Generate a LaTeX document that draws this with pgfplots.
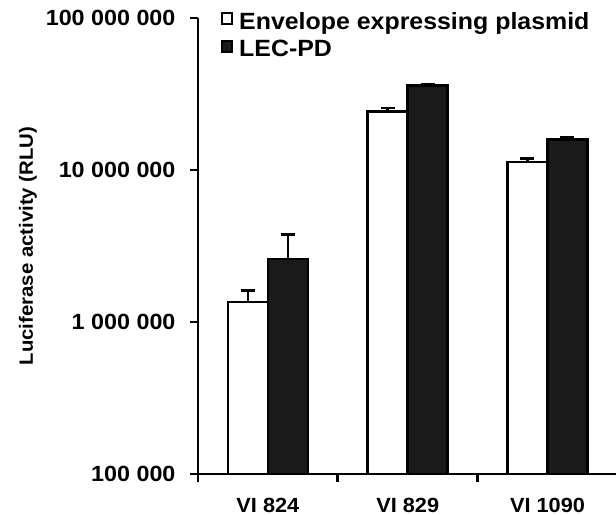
\documentclass[border=0pt]{standalone}
\usepackage{fontspec}
\setmainfont{Liberation Sans}[FakeStretch=1.06]
\usepackage{pgfplots}
\pgfplotsset{compat=1.18}
\definecolor{barblack}{HTML}{1A1A1A}
\begin{document}
\begin{tikzpicture}
\begin{axis}[
  name=ax, scale only axis, width=418bp, height=456bp,
  xmin=0.5, xmax=3.49, ymode=log, ymin=1e5, ymax=1e8,
  axis x line*=bottom, axis y line*=left,
  axis line style={line width=2.6bp, black},
  every tick/.style={line width=2.6bp, black},
  tick align=outside, major tick length=8bp,
  axis on top,
  xtick={0.5,1.5,2.5}, xticklabels={},
  extra x ticks={1,2,3}, extra x tick labels={VI 824, VI 829, VI 1090},
  extra x tick style={major tick length=0pt, xticklabel style={font=\fontsize{20.5bp}{24bp}\selectfont\bfseries, anchor=center, yshift=-31bp}},
  ytick={1e5,1e6,1e7,1e8}, yticklabels={100 000, 1 000 000, 10 000 000, 100 000 000},
  yminorticks=false,
  yticklabel style={font=\fontsize{22bp}{26bp}\selectfont\bfseries, xshift=-11bp},
  ylabel={Luciferase activity (RLU)},
  ylabel style={font=\fontsize{19.2bp}{23bp}\selectfont\bfseries, at={(axis description cs:-0.4067,0.5)}, anchor=center},
  ybar, bar width=40bp,
  legend image code/.code={\draw[#1, line width=2bp] (0bp,-2.5bp) rectangle (10bp,8bp);},
  legend cell align=left,
  legend style={draw=none, fill=none, at={(axis description cs:0.055,1.018)}, anchor=north west, inner sep=0pt, row sep=5.7bp, column sep=4bp, font=\fontsize{23.5bp}{27bp}\selectfont\bfseries, nodes={inner sep=2bp}},
]
\addplot[fill=white, draw=black, line width=2.6bp, bar shift=-20bp,
  error bars/.cd, y dir=plus, y explicit,
  error bar style={line width=2.6bp, black},
  error mark options={rotate=90, line width=2.6bp, black, mark size=7bp}] coordinates {
  (1,1.35e6) +- (0,0.26e6)
  (2,2.42e7) +- (0,0.13e7)
  (3,1.13e7) +- (0,0.06e7)
};
\addplot[fill=barblack, draw=black, line width=2.6bp, bar shift=20bp,
  error bars/.cd, y dir=plus, y explicit,
  error bar style={line width=2.6bp, black},
  error mark options={rotate=90, line width=2.6bp, black, mark size=7bp}] coordinates {
  (1,2.59e6) +- (0,1.16e6)
  (2,3.59e7) +- (0,0.09e7)
  (3,1.59e7) +- (0,0.06e7)
};
\legend{Envelope expressing plasmid, LEC-PD}
\end{axis}
\pgfresetboundingbox
\path[use as bounding box] ([xshift=-198bp,yshift=-41bp]ax.south west) rectangle ([yshift=18bp]ax.north east);
\end{tikzpicture}
\end{document}
